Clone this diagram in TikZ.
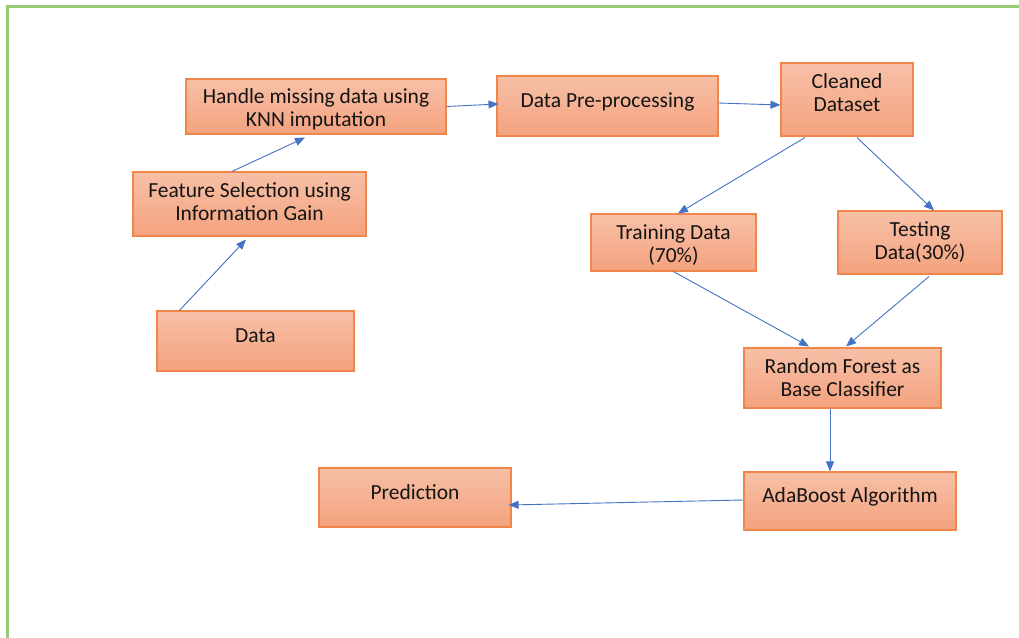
\documentclass[tikz,border=0pt]{standalone}
\usepackage{fontspec}
\setmainfont{Carlito}
\usetikzlibrary{arrows.meta,calc}
\definecolor{frame}{RGB}{150,202,116}
\definecolor{boxtop}{RGB}{247,192,167}
\definecolor{boxbot}{RGB}{244,162,126}
\definecolor{boxline}{RGB}{240,134,74}
\definecolor{arr}{RGB}{68,114,196}
\definecolor{txt}{RGB}{20,20,20}
\tikzset{
  box/.style={rectangle, draw=boxline, line width=1.1pt, top color=boxtop, bottom color=boxbot,
    align=center, text=txt, font=\fontsize{21.5}{23}\selectfont, inner sep=0pt,
    text height=21pt, text depth=5pt},
  two/.style={text height=44pt},
  lift/.style={text depth=#1},
  conn/.style={draw=arr, line width=0.9pt, -{Triangle[length=10pt,width=8pt]}}
}
\begin{document}
\begin{tikzpicture}[x=1pt,y=-1pt]
\useasboundingbox (0,0) rectangle (1019,637);
\fill[white] (0,0) rectangle (1019,637);
\draw[frame, line width=2.4pt] (1040,6.5) -- (7.5,6.5) -- (7.5,660);

\node[box, two, minimum width=260, minimum height=55, lift=5pt] (hm) at (316,106.5) {Handle missing data using\\KNN imputation};
\node[box, minimum width=221, minimum height=60, lift=19pt] (dp) at (607.5,106) {Data Pre-processing};
\node[box, two, minimum width=132, minimum height=73, lift=21pt] (cd) at (847,99.5) {Cleaned\\Dataset};
\node[box, two, minimum width=233, minimum height=64, lift=12pt] (fs) at (249.5,204) {Feature Selection using\\Information Gain};
\node[box, two, minimum width=165, minimum height=57, lift=5pt] (tr) at (673.5,242.5) {Training Data\\(70\%)};
\node[box, two, minimum width=164, minimum height=63, lift=10pt] (te) at (920,242.5) {Testing\\Data(30\%)};
\node[box, minimum width=197, minimum height=60, lift=19pt] (da) at (255.5,341) {Data};
\node[box, two, minimum width=197, minimum height=60, lift=8pt] (rf) at (842.5,378) {Random Forest as\\Base Classifier};
\node[box, minimum width=212, minimum height=58, lift=19pt] (ab) at (850,501) {AdaBoost Algorithm};
\node[box, minimum width=192, minimum height=59, lift=18pt] (pr) at (415,497.5) {Prediction};

\draw[conn] ([shift={(23,0)}]da.north west) -- ([shift={(-3.5,3)}]fs.south);
\draw[conn] ([shift={(-17.5,0)}]fs.north) -- ([shift={(-11,3)}]hm.south);
\draw[conn] (hm.east) -- ([shift={(2,-2)}]dp.west);
\draw[conn] ([shift={(0,-3)}]dp.east) -- ([shift={(0,5.5)}]cd.west);
\draw[conn] ([shift={(-42,1)}]cd.south) -- ([shift={(4.5,0)}]tr.north);
\draw[conn] ([shift={(10,1)}]cd.south) -- ([shift={(14,0)}]te.north);
\draw[conn] (tr.south) -- ([shift={(-33.5,-1)}]rf.north);
\draw[conn] ([shift={(9,2)}]te.south) -- ([shift={(3.5,-1)}]rf.north);
\draw[conn] ([shift={(-12.5,0)}]rf.south) -- ([shift={(-20,0)}]ab.north);
\draw[conn] ([shift={(0,-1)}]ab.west) -- ([shift={(-3,7.5)}]pr.east);
\end{tikzpicture}
\end{document}
